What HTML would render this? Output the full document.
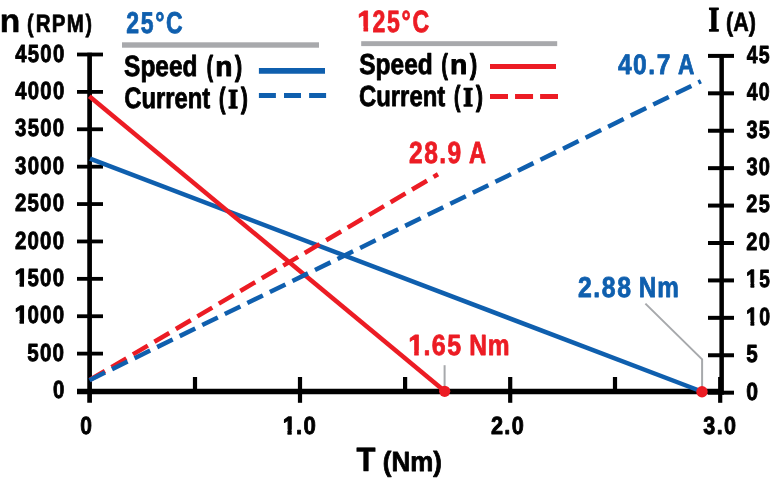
<!DOCTYPE html>
<html lang="en"><head><meta charset="utf-8"><title>Motor performance chart</title>
<style>
html,body{margin:0;padding:0;background:#fff;}
body{width:780px;height:482px;overflow:hidden;}
svg{display:block;will-change:transform;}
text{font-family:"Liberation Sans",sans-serif;font-weight:bold;stroke-linejoin:round;text-rendering:geometricPrecision;}
.m{font-family:"Liberation Mono",monospace;}
.s{font-family:"Liberation Serif",serif;}
</style></head><body>
<svg width="780" height="482" viewBox="0 0 780 482">
<rect width="780" height="482" fill="#fff"/>
<defs><clipPath id="cg1500"><polygon points="8.71,261.2 25.22,261.2 25.22,281.42 24.02,281.42 24.02,290 19.62,290 19.62,281.42 8.71,281.42"/><rect x="28" y="261.2" width="200" height="34.72"/></clipPath><clipPath id="cg1000"><polygon points="8.71,298.2 25.22,298.2 25.22,318.42 24.02,318.42 24.02,327 19.62,327 19.62,318.42 8.71,318.42"/><rect x="28" y="298.2" width="200" height="34.72"/></clipPath><clipPath id="cg15"><polygon points="740.29,262.2 755.45,262.2 755.45,282.42 754.25,282.42 754.25,291 750.5,291 750.5,282.42 740.29,282.42"/><rect x="759" y="262.2" width="200" height="34.72"/></clipPath><clipPath id="cg10"><polygon points="740.29,300.2 755.45,300.2 755.45,320.42 754.25,320.42 754.25,329 750.5,329 750.5,320.42 740.29,320.42"/><rect x="759" y="300.2" width="200" height="34.72"/></clipPath><clipPath id="cgx1"><polygon points="276.89,409.2 292.84,409.2 292.84,429.42 291.64,429.42 291.64,438 287.51,438 287.51,429.42 276.89,429.42"/><rect x="297" y="409.2" width="200" height="34.72"/></clipPath><clipPath id="cg125"><polygon points="351.28,1.93 369.3,1.93 369.3,26.23 368.1,26.23 368.1,35 363.51,35 363.51,26.23 351.28,26.23"/><rect x="373" y="1.93" width="200" height="40.7"/></clipPath><clipPath id="cg165"><polygon points="402.18,325.93 419.9,325.93 419.9,350.23 418.7,350.23 418.7,359 414.24,359 414.24,350.23 402.18,350.23"/><rect x="424" y="325.93" width="200" height="40.7"/></clipPath></defs>
<g stroke="#000" fill="none">
<line x1="89.6" y1="52.7" x2="89.6" y2="402.8" stroke-width="4.7"/>
<line x1="721.65" y1="54" x2="721.65" y2="394.7" stroke-width="4.5"/>
<line x1="77" y1="391.5" x2="720" y2="391.5" stroke-width="5.3"/>
<line x1="77" y1="54.50" x2="103" y2="54.50" stroke-width="3.8"/>
<line x1="77" y1="91.89" x2="103" y2="91.89" stroke-width="3.8"/>
<line x1="77" y1="129.28" x2="103" y2="129.28" stroke-width="3.8"/>
<line x1="77" y1="166.67" x2="103" y2="166.67" stroke-width="3.8"/>
<line x1="77" y1="204.06" x2="103" y2="204.06" stroke-width="3.8"/>
<line x1="77" y1="241.45" x2="103" y2="241.45" stroke-width="3.8"/>
<line x1="77" y1="278.84" x2="103" y2="278.84" stroke-width="3.8"/>
<line x1="77" y1="316.23" x2="103" y2="316.23" stroke-width="3.8"/>
<line x1="77" y1="353.62" x2="103" y2="353.62" stroke-width="3.8"/>
<line x1="708" y1="55.90" x2="734" y2="55.90" stroke-width="4"/>
<line x1="708" y1="93.32" x2="734" y2="93.32" stroke-width="4"/>
<line x1="708" y1="130.74" x2="734" y2="130.74" stroke-width="4"/>
<line x1="708" y1="168.16" x2="734" y2="168.16" stroke-width="4"/>
<line x1="708" y1="205.58" x2="734" y2="205.58" stroke-width="4"/>
<line x1="708" y1="243.00" x2="734" y2="243.00" stroke-width="4"/>
<line x1="708" y1="280.42" x2="734" y2="280.42" stroke-width="4"/>
<line x1="708" y1="317.84" x2="734" y2="317.84" stroke-width="4"/>
<line x1="708" y1="355.26" x2="734" y2="355.26" stroke-width="4"/>
<line x1="708" y1="392.68" x2="734" y2="392.68" stroke-width="4"/>
<line x1="300" y1="377" x2="300" y2="402.8" stroke-width="4.2"/>
<line x1="510.2" y1="377" x2="510.2" y2="402.8" stroke-width="4.2"/>
<line x1="720.2" y1="377" x2="720.2" y2="402.8" stroke-width="4.2"/>
<line x1="195" y1="377" x2="195" y2="391.5" stroke-width="4.2"/>
<line x1="405.1" y1="377" x2="405.1" y2="391.5" stroke-width="4.2"/>
<line x1="615" y1="377" x2="615" y2="391.5" stroke-width="4.2"/>
</g>
<line x1="90" y1="158.7" x2="701.75" y2="391.5" stroke="#0f5fae" stroke-width="4.5"/>
<line x1="89.3" y1="96.3" x2="444.5" y2="391" stroke="#ec1c24" stroke-width="4.5"/>
<line x1="90" y1="379.8" x2="438" y2="174.2" stroke="#ec1c24" stroke-width="4.5" stroke-dasharray="17.3 7.64"/>
<line x1="89.5" y1="380.2" x2="700.9" y2="81.3" stroke="#0f5fae" stroke-width="4.5" stroke-dasharray="17.3 7.8"/>
<polyline points="444.6,365.2 444.6,391" fill="none" stroke="#a7a9ac" stroke-width="2"/>
<polyline points="645.4,303.6 702.1,359.4 702.1,391" fill="none" stroke="#a7a9ac" stroke-width="2"/>
<circle cx="444.7" cy="391.3" r="5.6" fill="#ec1c24"/>
<circle cx="702" cy="391.7" r="5.7" fill="#ec1c24"/>
<rect x="122" y="42.3" width="197" height="5.4" fill="#a8a9ac"/>
<rect x="361.2" y="41.2" width="196" height="4.9" fill="#a8a9ac"/>
<line x1="258.9" y1="70.9" x2="325" y2="70.9" stroke="#0f5fae" stroke-width="5.7"/>
<line x1="258.9" y1="95.5" x2="327" y2="95.5" stroke="#0f5fae" stroke-width="4.9" stroke-dasharray="17 8.1"/>
<line x1="490" y1="66.5" x2="556" y2="66.5" stroke="#ec1c24" stroke-width="4.8"/>
<line x1="490" y1="96.5" x2="558" y2="96.5" stroke="#ec1c24" stroke-width="5" stroke-dasharray="18 7.05"/>
<text><tspan x="-0.22" y="32" font-size="32.77" fill="#000" stroke="#000" stroke-width="0.5" textLength="20.46" lengthAdjust="spacingAndGlyphs">n</tspan> <tspan x="26.96" y="32" font-size="25.07" fill="#000" stroke="#000" stroke-width="0.7" textLength="6.58" lengthAdjust="spacingAndGlyphs">(</tspan><tspan x="35.66" y="32" font-size="25.07" fill="#000" stroke="#000" stroke-width="0.7" textLength="49.37" lengthAdjust="spacingAndGlyphs" letter-spacing="1.5">RPM</tspan><tspan x="85.55" y="32" font-size="25.07" fill="#000" stroke="#000" stroke-width="0.7" textLength="6.47" lengthAdjust="spacingAndGlyphs">)</tspan></text>
<text><tspan x="708.4" y="31" font-size="35.05" fill="#000" stroke="#000" stroke-width="1.3" textLength="10.82" lengthAdjust="spacingAndGlyphs" class="s">I</tspan> <tspan x="726.09" y="31" font-size="26.38" fill="#000" stroke="#000" stroke-width="0.7" textLength="29.92" lengthAdjust="spacingAndGlyphs">(A)</tspan></text>
<text><tspan x="356.6" y="471" font-size="33.72" fill="#000" stroke="#000" stroke-width="0.6" textLength="18.97" lengthAdjust="spacingAndGlyphs">T</tspan> <tspan x="382.78" y="471" font-size="27.76" fill="#000" stroke="#000" stroke-width="0.8" textLength="59.08" lengthAdjust="spacingAndGlyphs">(Nm)</tspan></text>
<text x="15.25" y="62" font-size="24.8" fill="#000" stroke="#000" stroke-width="0.9" textLength="50.2" lengthAdjust="spacingAndGlyphs" letter-spacing="1.5">4500</text>
<text x="15.25" y="99" font-size="24.8" fill="#000" stroke="#000" stroke-width="0.9" textLength="50.2" lengthAdjust="spacingAndGlyphs" letter-spacing="1.5">4000</text>
<text x="15.07" y="136" font-size="24.8" fill="#000" stroke="#000" stroke-width="0.9" textLength="50.29" lengthAdjust="spacingAndGlyphs" letter-spacing="1.5">3500</text>
<text x="15.07" y="174" font-size="24.8" fill="#000" stroke="#000" stroke-width="0.9" textLength="50.29" lengthAdjust="spacingAndGlyphs" letter-spacing="1.5">3000</text>
<text x="14.9" y="211" font-size="24.8" fill="#000" stroke="#000" stroke-width="0.9" textLength="50.42" lengthAdjust="spacingAndGlyphs" letter-spacing="1.5">2500</text>
<text x="14.9" y="249" font-size="24.8" fill="#000" stroke="#000" stroke-width="0.9" textLength="50.42" lengthAdjust="spacingAndGlyphs" letter-spacing="1.5">2000</text>
<text clip-path="url(#cg1500)"><tspan x="14.71" y="286" font-size="24.8" fill="#000" stroke="#000" stroke-width="1.3" textLength="13.09" lengthAdjust="spacingAndGlyphs">1</tspan><tspan x="27.51" y="286" font-size="24.8" fill="#000" stroke="#000" stroke-width="0.9" textLength="37.82" lengthAdjust="spacingAndGlyphs" letter-spacing="1.5">500</tspan></text>
<text clip-path="url(#cg1000)"><tspan x="14.71" y="323" font-size="24.8" fill="#000" stroke="#000" stroke-width="1.3" textLength="13.09" lengthAdjust="spacingAndGlyphs">1</tspan><tspan x="27.49" y="323" font-size="24.8" fill="#000" stroke="#000" stroke-width="0.9" textLength="37.86" lengthAdjust="spacingAndGlyphs" letter-spacing="1.5">000</tspan></text>
<text x="27.22" y="361" font-size="24.8" fill="#000" stroke="#000" stroke-width="0.9" textLength="38.06" lengthAdjust="spacingAndGlyphs" letter-spacing="1.5">500</text>
<text x="52.89" y="398" font-size="24.8" fill="#000" stroke="#000" stroke-width="0.9" textLength="12.55" lengthAdjust="spacingAndGlyphs" letter-spacing="1.5">0</text>
<text x="746.73" y="63" font-size="24.8" fill="#000" stroke="#000" stroke-width="0.9" textLength="24.14" lengthAdjust="spacingAndGlyphs" letter-spacing="1.5">45</text>
<text x="746.73" y="100" font-size="24.8" fill="#000" stroke="#000" stroke-width="0.9" textLength="24.22" lengthAdjust="spacingAndGlyphs" letter-spacing="1.5">40</text>
<text x="746.43" y="138" font-size="24.8" fill="#000" stroke="#000" stroke-width="0.9" textLength="24.44" lengthAdjust="spacingAndGlyphs" letter-spacing="1.5">35</text>
<text x="746.42" y="175" font-size="24.8" fill="#000" stroke="#000" stroke-width="0.9" textLength="24.74" lengthAdjust="spacingAndGlyphs" letter-spacing="1.5">30</text>
<text x="746.35" y="212" font-size="24.8" fill="#000" stroke="#000" stroke-width="0.9" textLength="24.61" lengthAdjust="spacingAndGlyphs" letter-spacing="1.5">25</text>
<text x="746.34" y="250" font-size="24.8" fill="#000" stroke="#000" stroke-width="0.9" textLength="24.69" lengthAdjust="spacingAndGlyphs" letter-spacing="1.5">20</text>
<text clip-path="url(#cg15)"><tspan x="746.29" y="287" font-size="24.8" fill="#000" stroke="#000" stroke-width="1.3" textLength="11.2" lengthAdjust="spacingAndGlyphs">1</tspan><tspan x="759.13" y="287" font-size="24.8" fill="#000" stroke="#000" stroke-width="0.9" textLength="10.61" lengthAdjust="spacingAndGlyphs">5</tspan></text>
<text clip-path="url(#cg10)"><tspan x="746.29" y="325" font-size="24.8" fill="#000" stroke="#000" stroke-width="1.3" textLength="11.2" lengthAdjust="spacingAndGlyphs">1</tspan><tspan x="759.15" y="325" font-size="24.8" fill="#000" stroke="#000" stroke-width="0.9" textLength="10.82" lengthAdjust="spacingAndGlyphs">0</tspan></text>
<text x="746.22" y="362" font-size="24.8" fill="#000" stroke="#000" stroke-width="0.9" textLength="12.72" lengthAdjust="spacingAndGlyphs" letter-spacing="1.5">5</text>
<text x="746.14" y="400" font-size="24.8" fill="#000" stroke="#000" stroke-width="0.9" textLength="13.04" lengthAdjust="spacingAndGlyphs" letter-spacing="1.5">0</text>
<text x="80.15" y="434" font-size="24.8" fill="#000" stroke="#000" stroke-width="0.9" textLength="11.67" lengthAdjust="spacingAndGlyphs">0</text>
<text clip-path="url(#cgx1)"><tspan x="282.89" y="434" font-size="24.8" fill="#000" stroke="#000" stroke-width="1.3" textLength="12.3" lengthAdjust="spacingAndGlyphs">1</tspan><tspan x="295.96" y="434" font-size="24.8" fill="#000" stroke="#000" stroke-width="0.9" textLength="21.18" lengthAdjust="spacingAndGlyphs" letter-spacing="1.5">.0</tspan></text>
<text x="490.96" y="434" font-size="24.8" fill="#000" stroke="#000" stroke-width="0.9" textLength="34.08" lengthAdjust="spacingAndGlyphs" letter-spacing="1.5">2.0</text>
<text x="703.36" y="434" font-size="24.8" fill="#000" stroke="#000" stroke-width="0.9" textLength="33.87" lengthAdjust="spacingAndGlyphs" letter-spacing="1.5">3.0</text>
<text x="126.21" y="33" font-size="30.09" fill="#0f5fae" stroke="#0f5fae" stroke-width="0.8" textLength="58.11" lengthAdjust="spacingAndGlyphs" letter-spacing="2.2">25°C</text>
<text clip-path="url(#cg125)"><tspan x="357.28" y="31" font-size="29.07" fill="#ec1c24" stroke="#ec1c24" stroke-width="0.8" textLength="15.69" lengthAdjust="spacingAndGlyphs">1</tspan><tspan x="372.59" y="32" font-size="30.8" fill="#ec1c24" stroke="#ec1c24" stroke-width="0.8" textLength="58.14" lengthAdjust="spacingAndGlyphs" letter-spacing="2.2">25°C</tspan></text>
<text><tspan x="124.11" y="76" font-size="29.22" fill="#000" stroke="#000" stroke-width="0.8" textLength="73.42" lengthAdjust="spacingAndGlyphs">Speed</tspan> <tspan x="206.65" y="76" font-size="28.92" fill="#000" stroke="#000" stroke-width="1.2" textLength="6.23" lengthAdjust="spacingAndGlyphs">(</tspan><tspan x="215.25" y="76" font-size="27.76" fill="#000" stroke="#000" stroke-width="0.9" textLength="17.19" lengthAdjust="spacingAndGlyphs" class="m">n</tspan><tspan x="235.03" y="76" font-size="28.92" fill="#000" stroke="#000" stroke-width="1.2" textLength="7.13" lengthAdjust="spacingAndGlyphs">)</tspan></text>
<text><tspan x="124.25" y="108" font-size="29.36" fill="#000" stroke="#000" stroke-width="0.8" textLength="85.99" lengthAdjust="spacingAndGlyphs">Current</tspan> <tspan x="219.05" y="108" font-size="29.07" fill="#000" stroke="#000" stroke-width="1.2" textLength="6.42" lengthAdjust="spacingAndGlyphs">(</tspan><tspan x="228.3" y="108" font-size="27.03" fill="#000" stroke="#000" stroke-width="1.4" textLength="9.69" lengthAdjust="spacingAndGlyphs" class="s">I</tspan><tspan x="240.98" y="108" font-size="29.07" fill="#000" stroke="#000" stroke-width="1.2" textLength="6.8" lengthAdjust="spacingAndGlyphs">)</tspan></text>
<text><tspan x="359.2" y="74" font-size="28.92" fill="#000" stroke="#000" stroke-width="0.8" textLength="73.55" lengthAdjust="spacingAndGlyphs">Speed</tspan> <tspan x="441.57" y="74" font-size="28.63" fill="#000" stroke="#000" stroke-width="1.2" textLength="6.3" lengthAdjust="spacingAndGlyphs">(</tspan><tspan x="450.12" y="74" font-size="27.39" fill="#000" stroke="#000" stroke-width="0.9" textLength="17.31" lengthAdjust="spacingAndGlyphs" class="m">n</tspan><tspan x="469.89" y="74" font-size="28.63" fill="#000" stroke="#000" stroke-width="1.2" textLength="7.12" lengthAdjust="spacingAndGlyphs">)</tspan></text>
<text><tspan x="358.99" y="106" font-size="29.07" fill="#000" stroke="#000" stroke-width="0.8" textLength="86.26" lengthAdjust="spacingAndGlyphs">Current</tspan> <tspan x="454.01" y="106" font-size="28.78" fill="#000" stroke="#000" stroke-width="1.2" textLength="6.34" lengthAdjust="spacingAndGlyphs">(</tspan><tspan x="463.24" y="106" font-size="26.73" fill="#000" stroke="#000" stroke-width="1.4" textLength="9.71" lengthAdjust="spacingAndGlyphs" class="s">I</tspan><tspan x="475.95" y="106" font-size="28.78" fill="#000" stroke="#000" stroke-width="1.2" textLength="6.91" lengthAdjust="spacingAndGlyphs">)</tspan></text>
<text><tspan x="617.88" y="74" font-size="28.22" fill="#0f5fae" stroke="#0f5fae" stroke-width="0.8" textLength="54.07" lengthAdjust="spacingAndGlyphs" letter-spacing="1.8">40.7</tspan> <tspan x="678.1" y="74" font-size="28.2" fill="#0f5fae" stroke="#0f5fae" stroke-width="0.8" textLength="16.3" lengthAdjust="spacingAndGlyphs">A</tspan></text>
<text><tspan x="409.02" y="163" font-size="30.52" fill="#ec1c24" stroke="#ec1c24" stroke-width="0.8" textLength="53.67" lengthAdjust="spacingAndGlyphs" letter-spacing="1.8">28.9</tspan> <tspan x="469.09" y="163" font-size="30.52" fill="#ec1c24" stroke="#ec1c24" stroke-width="0.8" textLength="16.95" lengthAdjust="spacingAndGlyphs">A</tspan></text>
<text clip-path="url(#cg165)"><tspan x="408.18" y="355" font-size="29.07" fill="#ec1c24" stroke="#ec1c24" stroke-width="0.8" textLength="15.27" lengthAdjust="spacingAndGlyphs">1</tspan><tspan x="423.38" y="355" font-size="29.08" fill="#ec1c24" stroke="#ec1c24" stroke-width="0.8" textLength="39.39" lengthAdjust="spacingAndGlyphs" letter-spacing="1.8">.65</tspan> <tspan x="469.2" y="355" font-size="29.07" fill="#ec1c24" stroke="#ec1c24" stroke-width="0.8" textLength="41.23" lengthAdjust="spacingAndGlyphs" letter-spacing="1.0">Nm</tspan></text>
<text><tspan x="578" y="297" font-size="28.8" fill="#0f5fae" stroke="#0f5fae" stroke-width="0.8" textLength="54.49" lengthAdjust="spacingAndGlyphs" letter-spacing="1.8">2.88</tspan> <tspan x="638.8" y="297" font-size="28.78" fill="#0f5fae" stroke="#0f5fae" stroke-width="0.8" textLength="40.84" lengthAdjust="spacingAndGlyphs" letter-spacing="1.0">Nm</tspan></text>
</svg>
</body></html>
